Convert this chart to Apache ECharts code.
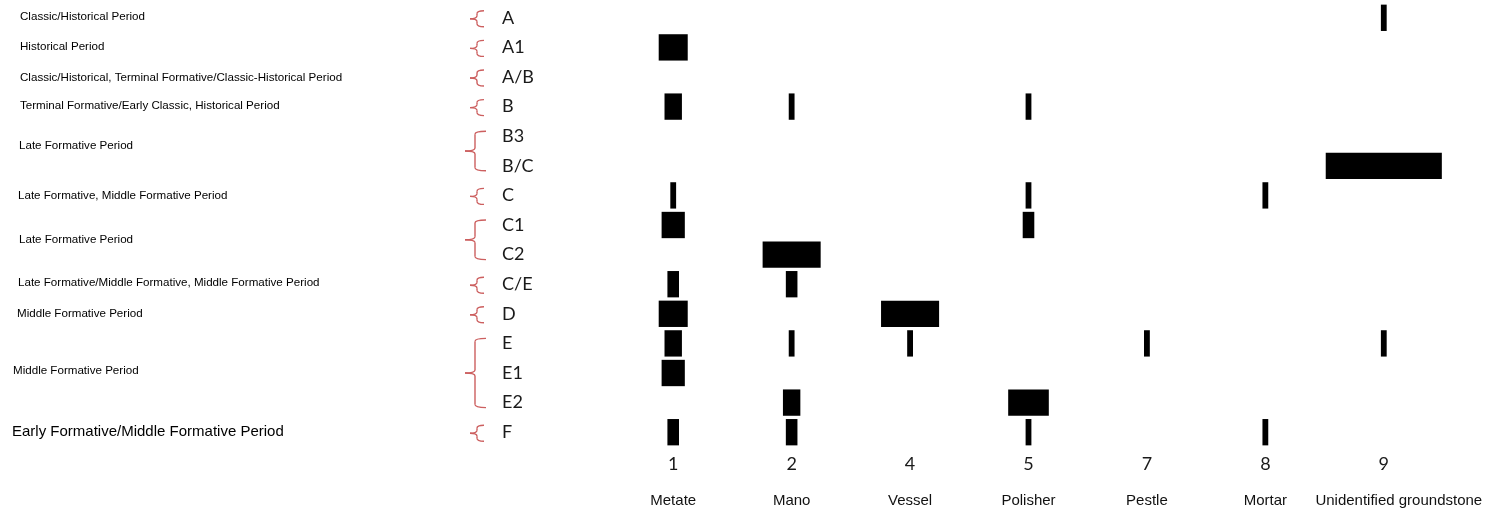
<!DOCTYPE html>
<html>
<head>
<meta charset="utf-8">
<script src="https://cdn.jsdelivr.net/npm/echarts@6/dist/echarts.min.js"></script>
<style>
html,body{margin:0;padding:0;background:#fff;}
#chart{width:1494px;height:513px;}
</style>
</head>
<body>
<div id="chart"></div>
<script>
// ---- data ----
const rows = ['A','A1','A/B','B','B3','B/C','C','C1','C2','C/E','D','E','E1','E2','F'];
const typeIds = ['1','2','4','5','7','8','9'];
const typeNames = ['Metate','Mano','Vessel','Polisher','Pestle','Mortar','Unidentified groundstone'];
const metate       = [0,5,0,3,0,0,1,4,0,2,5,3,4,0,2];
const mano         = [0,0,0,1,0,0,0,0,10,2,0,1,0,3,2];
const vessel       = [0,0,0,0,0,0,0,0,0,0,10,1,0,0,0];
const polisher     = [0,0,0,1,0,0,1,2,0,0,0,0,0,7,1];
const pestle       = [0,0,0,0,0,0,0,0,0,0,0,1,0,0,0];
const mortar       = [0,0,0,0,0,0,1,0,0,0,0,0,0,0,1];
const unidentified = [1,0,0,0,0,20,0,0,0,0,0,1,0,0,0];
const periodTexts = [
  'Classic/Historical Period',
  'Historical Period',
  'Classic/Historical, Terminal Formative/Classic-Historical Period',
  'Terminal Formative/Early Classic, Historical Period',
  'Late Formative Period',
  'Late Formative, Middle Formative Period',
  'Late Formative Period',
  'Late Formative/Middle Formative, Middle Formative Period',
  'Middle Formative Period',
  'Middle Formative Period',
  'Early Formative/Middle Formative Period'
];
const periodFirstRow = ['A','A1','A/B','B','B3','C','C1','C/E','D','E','F'];
const periodLastRow  = ['A','A1','A/B','B','B/C','C','C2','C/E','D','E2','F'];

// ---- build ----
const seriesCols = [metate, mano, vessel, polisher, pestle, mortar, unidentified];
const cells = [];
seriesCols.forEach((arr, ci) => {
  arr.forEach((v, ri) => { if (v > 0) cells.push([ci, ri, v]); });
});

const UNITS_PER_COLUMN = 20.4;
const BAR_FRAC = 0.89;
const textX = [20, 20, 20, 20, 19, 18, 19, 18, 17, 13, 12];
const textDy = [-1, -1, 1, -1, -5, 0, 0, -1, 0, -2, 0];

const nameData = typeNames.map((n, i) =>
  i === typeNames.length - 1 ? { value: n, textStyle: { padding: [0, 0, 0, 30] } } : n);

const chart = echarts.init(document.getElementById('chart'));
chart.setOption({
  animation: false,
  backgroundColor: '#fff',
  grid: { left: 614, right: 51, top: 3, bottom: 66 },
  xAxis: [
    {
      type: 'category', data: typeIds, boundaryGap: true,
      axisLine: { show: false }, axisTick: { show: false }, splitLine: { show: false },
      axisLabel: { margin: 8, fontFamily: 'Lato', fontSize: 18, color: '#1a1a1a' }
    },
    {
      type: 'category', data: nameData, position: 'bottom', offset: 38,
      axisLine: { show: false }, axisTick: { show: false }, splitLine: { show: false },
      axisLabel: { margin: 8, fontFamily: 'Liberation Sans', fontSize: 15, color: '#111', interval: 0 }
    }
  ],
  yAxis: {
    type: 'category', data: rows, inverse: true,
    axisLine: { show: false }, axisTick: { show: false }, splitLine: { show: false },
    axisLabel: { margin: 112, align: 'left', fontFamily: 'Lato', fontSize: 18, color: '#1a1a1a' }
  },
  series: [{
    type: 'custom',
    xAxisIndex: 0,
    data: cells,
    renderItem: function (params, api) {
      const c = api.coord([api.value(0), api.value(1)]);
      const band = api.size([1, 1]);
      const w = api.value(2) * band[0] / UNITS_PER_COLUMN;
      const h = band[1] * BAR_FRAC;
      return {
        type: 'rect',
        shape: { x: c[0] - w / 2, y: c[1] - h / 2, width: w, height: h },
        style: { fill: '#000' }
      };
    }
  }]
});

// ---- period labels and braces ----
const graphics = [];
const braceColor = '#cc5f5f';
function seg(x1, y1, x2, y2) {
  return { type: 'line', shape: { x1: x1, y1: y1, x2: x2, y2: y2 },
           style: { stroke: braceColor, lineWidth: 1.4 } };
}
function curve(x1, y1, cx, cy, x2, y2) {
  return { type: 'bezierCurve', shape: { x1: x1, y1: y1, cpx1: cx, cpy1: cy, x2: x2, y2: y2 },
           style: { stroke: braceColor, lineWidth: 1.4, fill: null } };
}
periodTexts.forEach((t, i) => {
  const y1 = chart.convertToPixel({ yAxisIndex: 0 }, periodFirstRow[i]);
  const y2 = chart.convertToPixel({ yAxisIndex: 0 }, periodLastRow[i]);
  const mid = (y1 + y2) / 2;
  const big = (i === periodTexts.length - 1);
  const multi = y2 > y1;
  graphics.push({
    type: 'text',
    x: textX[i],
    y: mid + textDy[i],
    style: {
      text: t, fill: '#000', verticalAlign: 'middle',
      font: (big ? '15px' : '11.6px') + ' "Liberation Sans", Arial, sans-serif'
    }
  });
  let top, bot, xl, xv, xr;
  if (multi) {
    top = y1 - 5; bot = y2 + 5;
    xl = 465; xv = 475; xr = 486;
  } else {
    top = mid - 7; bot = mid + 9;
    xl = 470; xv = 477; xr = 484;
  }
  const m = (top + bot) / 2;
  const r = 3;
  graphics.push(curve(xr, top, xv, top, xv, top + r));
  graphics.push(seg(xv, top + r, xv, m - r));
  graphics.push(curve(xv, m - r, xv, m, xl, m));
  graphics.push(curve(xl, m, xv, m, xv, m + r));
  graphics.push(seg(xv, m + r, xv, bot - r));
  graphics.push(curve(xv, bot - r, xv, bot, xr, bot));
});
chart.setOption({ graphic: graphics });
</script>
</body>
</html>
